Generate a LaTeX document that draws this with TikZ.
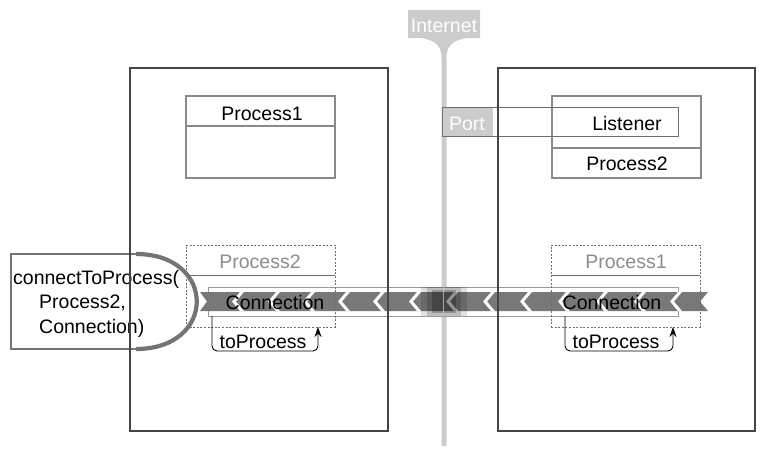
\documentclass[tikz,border=0pt]{standalone}
\usepackage{fontspec}
\setmainfont{Liberation Sans}
\usetikzlibrary{arrows.meta}

\definecolor{netgray}{HTML}{CCCCCC}
\definecolor{bandgray}{HTML}{787878}
\definecolor{framegray}{HTML}{444444}
\definecolor{boxgray}{HTML}{8A8A8A}
\definecolor{dashgray}{HTML}{6E6E6E}
\definecolor{labelgray}{HTML}{8C8C8C}
\definecolor{calloutgray}{HTML}{747474}
\definecolor{pipegray}{HTML}{9A9A9A}

\begin{document}
\begin{tikzpicture}[x=1pt, y=-1pt,
  lbl/.style={font=\fontsize{19.5}{23}\selectfont, inner sep=0pt, anchor=base},
  machine/.style={draw=framegray, line width=1.6pt, inner sep=0pt, outer sep=0pt},
  procbox/.style={draw=boxgray, line width=1.1pt, inner sep=0pt, outer sep=0pt},
  dashbox/.style={draw=dashgray, line width=0.8pt, dash pattern=on 2pt off 1.6pt,
                  inner sep=0pt, outer sep=0pt},
  connbox/.style={inner sep=0pt, outer sep=0pt, minimum height=29pt},
  toarrow/.style={draw=black, line width=0.9pt, rounded corners=5pt,
                  -{Stealth[length=10pt, width=7pt]}}
]
\useasboundingbox (0,0) rectangle (767,456);

% ---- the Internet: a grey pipe with its tab on top
\fill[netgray] (408,10) -- (480,10) -- (480,38) -- (468,38)
  .. controls (451,40) and (446.5,47) .. (446.5,58) -- (446.5,446) -- (441.5,446)
  -- (441.5,58) .. controls (441.5,47) and (437,40) .. (420,38) -- (408,38) -- cycle;
\node[lbl, text=white] (inet) at (444,32) {Internet};

% ---- process 1 (top, left host)
\node[procbox, minimum width=149pt, minimum height=82pt] (p1) at (260.5,137) {};
\draw[boxgray, line width=1.1pt] (p1.north west) ++(0,30) -- ++(149,0);
\node[lbl] (p1title) at (262,120) {Process1};

% ---- process 2 (top, right host) with its listener on a port
\node[procbox, minimum width=149pt, minimum height=82pt] (p2) at (626.5,137) {};
\draw[boxgray, line width=1.1pt] (p2.north west) ++(0,52) -- ++(149,0);
\node[lbl] (p2title) at (627,170) {Process2};
\node[draw=dashgray, line width=1pt, inner sep=0pt, outer sep=0pt,
      minimum width=236pt, minimum height=29pt] (listen) at (560,121.5) {};
\fill[netgray] (listen.north west) rectangle ++(51,29);
\draw[dashgray, line width=1pt] (listen.north west) rectangle (listen.south east);
\node[lbl, text=white] (port) at (467,130) {Port};
\node[lbl] (listentxt) at (627,130) {Listener};

% ---- the pipe carrying the connection
\node[draw=pipegray, fill=white, line width=1pt, inner sep=0pt, outer sep=0pt,
      minimum width=470pt, minimum height=29pt] (pipe) at (443,301.5) {};
\fill[bandgray] (200,292) -- (708,292) -- (700,301.5) -- (708,311) -- (200,311)
  -- (207,301.5) -- cycle;
\begin{scope}
  \clip (200,292) -- (708,292) -- (700,301.5) -- (708,311) -- (200,311)
    -- (207,301.5) -- cycle;
  \foreach \g in {234,270,305,340,375,411,448,485,522,560,598,636,672}
    \draw[white, line width=3pt] (\g+10,289.6) -- (\g,301.5) -- (\g+10,313.4);
\end{scope}
% where the connection crosses the Internet
\fill[black, opacity=.12] (421,287) rectangle (467,316);
\fill[black, opacity=.15] (427,287) rectangle (461,316);
\fill[black, opacity=.22] (432,290) rectangle (456,313);
\draw[netgray, opacity=.7, line width=1.2pt] (443.5,287) -- (443.5,316);

% ---- remote process proxies (dashed)
\node[dashbox, minimum width=149pt, minimum height=82pt] (dashA) at (260.5,286) {};
\draw[dashgray, line width=0.8pt] (dashA.north west) ++(0,30) -- ++(149,0);
\node[lbl, text=labelgray] (dashAtitle) at (260,268.5) {Process2};

\node[dashbox, minimum width=149pt, minimum height=82pt] (dashB) at (625.5,286) {};
\draw[dashgray, line width=0.8pt] (dashB.north west) ++(0,30) -- ++(149,0);
\node[lbl, text=labelgray] (dashBtitle) at (626,268.5) {Process1};

% ---- connection ends and their toProcess links
\node[connbox, minimum width=134pt] (connA) at (275,301.5) {};
\node[lbl] (connAtxt) at (275,309.5) {Connection};
\node[connbox, minimum width=102pt] (connB) at (612,301.5) {};
\node[lbl] (connBtxt) at (612,309.5) {Connection};

\coordinate (sA) at ([xshift=4pt]connA.south west);
\coordinate (sB) at ([xshift=4pt]connB.south west);
\draw[toarrow] (sA) -- (sA |- 0,351) -- (318,351) -- (318,0 |- dashA.south);
\draw[toarrow] (sB) -- (sB |- 0,351) -- (673,351) -- (673,0 |- dashB.south);
\node[lbl] (toA) at (263,348) {toProcess};
\node[lbl] (toB) at (616,348) {toProcess};

% ---- the connectToProcess call
\draw[calloutgray, line width=2pt] (140,254) -- (11,254) -- (11,349) -- (140,349);
\draw[calloutgray, line width=4.2pt] (136,254)
  .. controls (217,254) and (217,349) .. (136,349);
\node[lbl, anchor=base west] (call1) at (13,284) {connectToProcess(};
\node[lbl, anchor=base west] (call2) at (39,308.5) {Process2,};
\node[lbl, anchor=base west] (call3) at (39,333) {Connection)};

% ---- the two hosts
\node[machine, minimum width=258pt, minimum height=363pt] (hostA) at (259,249.5) {};
\node[machine, minimum width=257pt, minimum height=363pt] (hostB) at (626.5,249.5) {};
\end{tikzpicture}
\end{document}
